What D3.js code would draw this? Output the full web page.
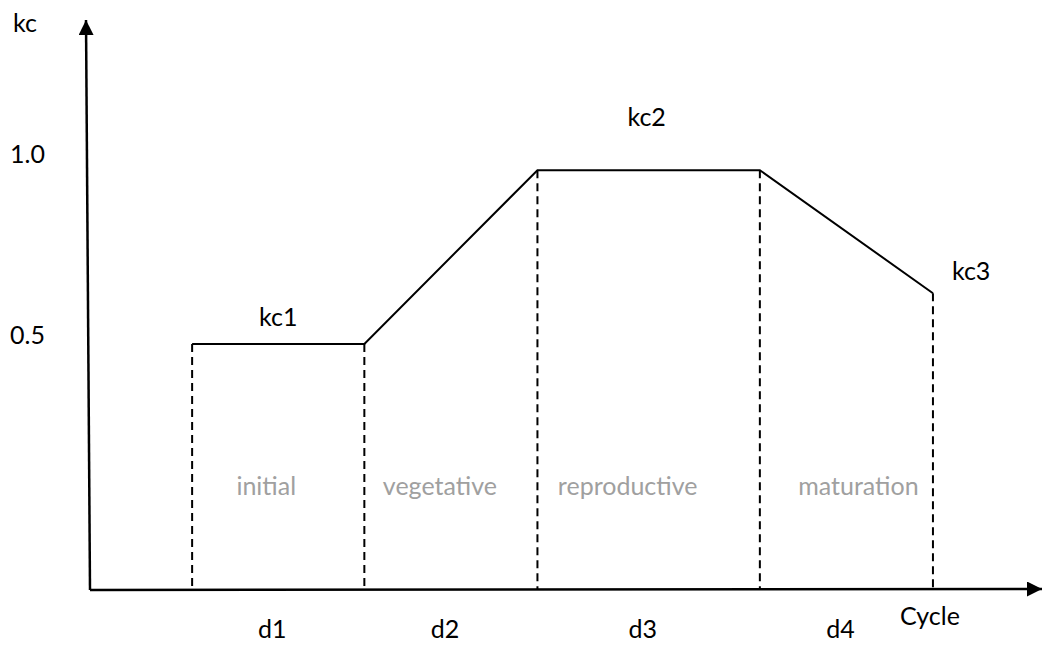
<!DOCTYPE html>
<html>
<head>
<meta charset="utf-8">
<script src="https://cdn.jsdelivr.net/npm/d3@7"></script>
<style>
  body { margin: 0; background: #fff; }
  text { font-family: Lato, "Open Sans", sans-serif; }
</style>
</head>
<body>
<svg id="chart"></svg>
<script>
// crop stages and the durations between boundaries
const stages = ['initial', 'vegetative', 'reproductive', 'maturation'];
const durationLabels = ['d1', 'd2', 'd3', 'd4'];
// stage boundaries along the cycle (days)
const boundaries = [11.8, 31.7, 51.7, 77.4, 97.4];
// kc value at each boundary
const kcValues = [0.5, 0.5, 0.98, 0.98, 0.64];
const kcLabels = ['kc1', 'kc2', 'kc3'];
const kcTicks = [0.5, 1.0];

const width = 1042;
const height = 645;
const fontSize = '25px';

const svg = d3.select('#chart')
  .attr('width', width)
  .attr('height', height);

// scales (x axis sits at kc = -0.18 so tick labels line up with the drawing)
const xScale = d3.scaleLinear().domain([0, 110]).range([90, 1042]);
const yScale = d3.scaleLinear().domain([-0.18, 1.395]).range([590, 20]);

// arrow head marker
svg.append('defs')
  .append('marker')
  .attr('id', 'arrow')
  .attr('viewBox', '0 0 10 10')
  .attr('refX', 10)
  .attr('refY', 5)
  .attr('markerWidth', 15)
  .attr('markerHeight', 15)
  .attr('markerUnits', 'userSpaceOnUse')
  .attr('orient', 'auto')
  .append('path')
  .attr('d', 'M0,0 L10,5 L0,10 Z')
  .attr('fill', '#000');

// axes
svg.append('line')
  .attr('x1', xScale(0)).attr('y1', yScale(-0.18))
  .attr('x2', xScale(110)).attr('y2', yScale(-0.18) - 1)
  .attr('stroke', '#000').attr('stroke-width', 2.5)
  .attr('marker-end', 'url(#arrow)');

svg.append('line')
  .attr('x1', xScale(0)).attr('y1', yScale(-0.18))
  .attr('x2', xScale(0) - 4).attr('y2', yScale(1.395))
  .attr('stroke', '#000').attr('stroke-width', 2.5)
  .attr('marker-end', 'url(#arrow)');

// y tick labels
const yAxis = svg.append('g')
  .attr('transform', `translate(${xScale(0) - 2}, 0)`)
  .call(d3.axisLeft(yScale)
    .tickValues(kcTicks)
    .tickFormat(d3.format('.1f'))
    .tickSize(0)
    .tickPadding(43));
yAxis.select('.domain').remove();
yAxis.selectAll('text')
  .attr('dy', '0em')
  .style('font-family', 'Lato, "Open Sans", sans-serif')
  .style('font-size', fontSize)
  .attr('fill', '#000');

// axis titles
svg.append('text')
  .attr('x', 13).attr('y', 32)
  .style('font-size', fontSize)
  .text('kc');

svg.append('text')
  .attr('x', xScale(boundaries[4]) - 3).attr('y', 625)
  .attr('text-anchor', 'middle')
  .style('font-size', fontSize)
  .text('Cycle');

// dashed boundary lines
svg.selectAll('.boundary')
  .data(boundaries)
  .enter()
  .append('line')
  .attr('class', 'boundary')
  .attr('x1', d => xScale(d)).attr('x2', d => xScale(d))
  .attr('y1', (d, i) => yScale(kcValues[i]))
  .attr('y2', yScale(-0.18))
  .attr('stroke', '#000')
  .attr('stroke-width', 2)
  .attr('stroke-dasharray', '8,5');

// kc curve
const line = d3.line()
  .x(d => xScale(d[0]))
  .y(d => yScale(d[1]));

svg.append('path')
  .datum(boundaries.map((b, i) => [b, kcValues[i]]))
  .attr('d', line)
  .attr('fill', 'none')
  .attr('stroke', '#000')
  .attr('stroke-width', 2);

// kc labels
const mid = i => (xScale(boundaries[i]) + xScale(boundaries[i + 1])) / 2;
svg.append('text')
  .attr('x', mid(0)).attr('y', yScale(kcValues[0]) - 18)
  .attr('text-anchor', 'middle')
  .style('font-size', fontSize)
  .text(kcLabels[0]);
svg.append('text')
  .attr('x', mid(2) - 2).attr('y', yScale(kcValues[2]) - 44)
  .attr('text-anchor', 'middle')
  .style('font-size', fontSize)
  .text(kcLabels[1]);
svg.append('text')
  .attr('x', xScale(boundaries[4]) + 19).attr('y', yScale(kcValues[4]) - 13)
  .style('font-size', fontSize)
  .text(kcLabels[2]);

// stage names
const stageShift = [-12, -11, -21, 12];
svg.selectAll('.stage')
  .data(stages)
  .enter()
  .append('text')
  .attr('class', 'stage')
  .attr('x', (d, i) => mid(i) + stageShift[i])
  .attr('y', 495)
  .attr('text-anchor', 'middle')
  .attr('fill', '#a0a0a0')
  .style('font-size', fontSize)
  .text(d => d);

// durations
svg.selectAll('.duration')
  .data(durationLabels)
  .enter()
  .append('text')
  .attr('class', 'duration')
  .attr('x', (d, i) => mid(i) - 6)
  .attr('y', 638)
  .attr('text-anchor', 'middle')
  .style('font-size', fontSize)
  .text(d => d);
</script>
</body>
</html>
